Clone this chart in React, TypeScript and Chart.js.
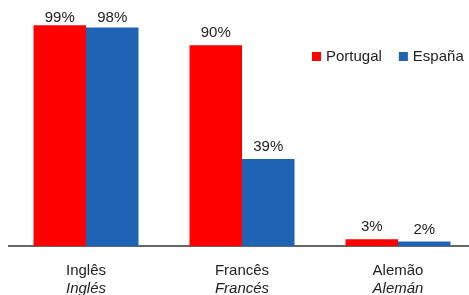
import { useEffect, useRef } from 'react';
import { Chart, registerables } from 'chart.js';

Chart.register(...registerables);

const categoriesPt = ['Inglês', 'Francês', 'Alemão'];
const categoriesEs = ['Inglés', 'Francés', 'Alemán'];
const seriesNames = ['Portugal', 'España'];
const portugal = [99, 90, 3];
const espana = [98, 39, 2];
const seriesColors = ['#FF0000', '#1F64B4'];

const FONT = "'Liberation Sans', Arial, sans-serif";
const TEXT = '#222222';
const W = 461;
const H = 287;

export default function App() {
  const ref = useRef<HTMLCanvasElement>(null);

  useEffect(() => {
    const canvas = ref.current;
    if (!canvas) return;

    const valueLabels = {
      id: 'valueLabels',
      afterDatasetsDraw(chart: any) {
        const ctx = chart.ctx;
        ctx.save();
        ctx.font = `15px ${FONT}`;
        ctx.fillStyle = TEXT;
        ctx.textAlign = 'center';
        ctx.textBaseline = 'alphabetic';
        chart.data.datasets.forEach((ds: any, di: number) => {
          const meta = chart.getDatasetMeta(di);
          meta.data.forEach((bar: any, i: number) => {
            const v = ds.data[i].y;
            const y = Math.max(bar.y - 8, 14);
            ctx.fillText(v + '%', bar.x, y);
          });
        });
        ctx.restore();
      },
    };

    const categoryLabels = {
      id: 'categoryLabels',
      afterDraw(chart: any) {
        const ctx = chart.ctx;
        const xs = chart.scales.x;
        const bottom = chart.chartArea.bottom;
        ctx.save();
        ctx.fillStyle = TEXT;
        ctx.textAlign = 'center';
        ctx.textBaseline = 'alphabetic';
        categoriesPt.forEach((label, i) => {
          const x = xs.getPixelForValue(i);
          ctx.font = `15px ${FONT}`;
          ctx.fillText(label, x, bottom + 29.3);
          ctx.font = `italic 15px ${FONT}`;
          ctx.fillText(categoriesEs[i], x, bottom + 47.4);
        });
        ctx.restore();
      },
    };

    const customLegend = {
      id: 'customLegend',
      afterDraw(chart: any) {
        const ctx = chart.ctx;
        ctx.save();
        ctx.font = `15px ${FONT}`;
        ctx.textAlign = 'left';
        ctx.textBaseline = 'alphabetic';
        let x = 304;
        chart.data.datasets.forEach((ds: any) => {
          ctx.fillStyle = ds.backgroundColor;
          ctx.fillRect(x, 44, 9, 9);
          ctx.fillStyle = TEXT;
          ctx.fillText(ds.label, x + 14, 53);
          x += 14 + ctx.measureText(ds.label).width + 17;
        });
        ctx.restore();
      },
    };

    const chart = new Chart(canvas, {
      type: 'bar',
      data: {
        datasets: [
          {
            label: seriesNames[0],
            data: portugal.map((v, i) => ({ x: i, y: v })),
            backgroundColor: seriesColors[0],
            borderWidth: 0,
          },
          {
            label: seriesNames[1],
            data: espana.map((v, i) => ({ x: i, y: v })),
            backgroundColor: seriesColors[1],
            borderWidth: 0,
          },
        ],
      },
      options: {
        animation: false,
        responsive: false,
        maintainAspectRatio: false,
        layout: { padding: { top: 15, left: 0, right: 0, bottom: 49 } },
        datasets: {
          bar: { categoryPercentage: 0.673, barPercentage: 1 },
        },
        plugins: {
          legend: { display: false },
          tooltip: { enabled: false },
        },
        scales: {
          x: {
            type: 'linear',
            position: 'bottom',
            offset: false,
            min: -0.5,
            max: 2.455,
            afterBuildTicks: (axis: any) => {
              axis.ticks = categoriesPt.map((_, i) => ({ value: i }));
            },
            grid: { display: false, drawTicks: false },
            border: { display: true, color: '#666666', width: 2 },
            ticks: { display: false },
          },
          y: {
            display: false,
            min: 0,
            max: 100,
          },
        },
      },
      plugins: [valueLabels, categoryLabels, customLegend],
    } as any);

    return () => chart.destroy();
  }, []);

  return (
    <div style={{ position: 'fixed', left: 8, top: 8, width: W, height: H }}>
      <canvas ref={ref} width={W} height={H} style={{ width: W, height: H, display: 'block' }} />
    </div>
  );
}
